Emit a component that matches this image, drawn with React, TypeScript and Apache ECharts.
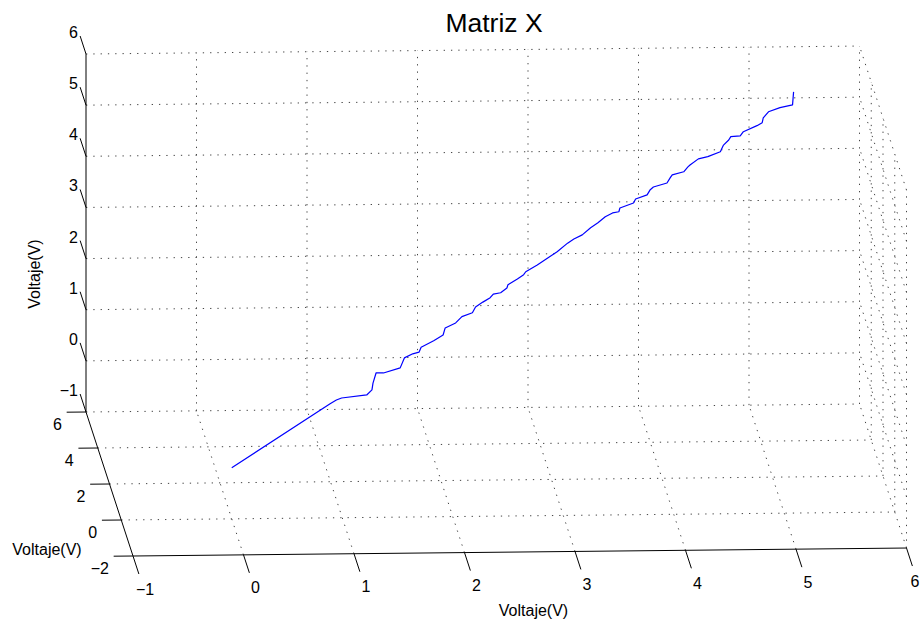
import React, { useEffect, useRef } from 'react';
import * as echarts from 'echarts';

// ---- axis ticks / labels ----
const X_TICKS = [-1, 0, 1, 2, 3, 4, 5, 6];
const Y_TICKS = [-2, 0, 2, 4, 6];
const Z_TICKS = [-1, 0, 1, 2, 3, 4, 5, 6];
const X_LABELS = ['−1', '0', '1', '2', '3', '4', '5', '6'];
const Y_LABELS = ['−2', '0', '2', '4', '6'];
const Z_LABELS = ['−1', '0', '1', '2', '3', '4', '5', '6'];
const TITLE = 'Matriz X';
const X_NAME = 'Voltaje(V)';
const Y_NAME = 'Voltaje(V)';
const Z_NAME = 'Voltaje(V)';

// ---- data (x, y, z) ----
const voltajeX = [0.00, 0.94, 1.00, 1.05, 1.29, 1.34, 1.35, 1.38, 1.45, 1.61, 1.65, 1.73, 1.79, 1.81, 1.93, 2.02, 2.04, 2.14, 2.20, 2.30, 2.33, 2.40, 2.47, 2.50, 2.57, 2.63, 2.64, 2.73, 2.79, 2.81, 2.92, 3.02, 3.11, 3.21, 3.27, 3.35, 3.43, 3.50, 3.57, 3.64, 3.70, 3.71, 3.84, 3.86, 3.97, 4.00, 4.03, 4.16, 4.19, 4.21, 4.32, 4.36, 4.38, 4.46, 4.55, 4.67, 4.70, 4.75, 4.77, 4.86, 4.89, 5.02, 5.07, 5.08, 5.13, 5.24, 5.36, 5.37];
const voltajeY = [0.00, 0.94, 1.00, 1.05, 1.29, 1.34, 1.35, 1.38, 1.45, 1.61, 1.65, 1.73, 1.79, 1.81, 1.93, 2.02, 2.04, 2.14, 2.20, 2.30, 2.33, 2.40, 2.47, 2.50, 2.57, 2.63, 2.64, 2.73, 2.79, 2.81, 2.92, 3.02, 3.11, 3.21, 3.27, 3.35, 3.43, 3.50, 3.57, 3.64, 3.70, 3.71, 3.84, 3.86, 3.97, 4.00, 4.03, 4.16, 4.19, 4.21, 4.32, 4.36, 4.38, 4.46, 4.55, 4.67, 4.70, 4.75, 4.77, 4.86, 4.89, 5.02, 5.07, 5.08, 5.13, 5.24, 5.36, 5.37];
const voltajeZ = [0.00, 0.90, 0.95, 0.97, 0.94, 1.02, 1.15, 1.34, 1.31, 1.35, 1.53, 1.58, 1.59, 1.68, 1.76, 1.84, 1.97, 2.03, 2.13, 2.17, 2.27, 2.34, 2.40, 2.46, 2.46, 2.53, 2.59, 2.67, 2.73, 2.78, 2.87, 2.97, 3.06, 3.19, 3.25, 3.30, 3.41, 3.48, 3.57, 3.62, 3.62, 3.69, 3.74, 3.81, 3.85, 3.94, 3.98, 4.01, 4.10, 4.15, 4.17, 4.25, 4.28, 4.37, 4.38, 4.43, 4.55, 4.63, 4.69, 4.67, 4.74, 4.81, 4.85, 4.94, 5.04, 5.08, 5.09, 5.34];

// ---- view / camera ----
const W = 921;
const H = 627;
const XMIN = -1, XMAX = 6, YMIN = -2, YMAX = 6, ZMIN = -1, ZMAX = 6;
const ORIGIN = [86, 412]; // projection of (XMIN, YMAX, ZMIN)
const EX = [110.5, -1.14];
const EY = [-5.875, -18];
const EZ = [0, -51.14];
const FONT = '"Liberation Sans", Arial, Helvetica, sans-serif';

function proj(x: number, y: number, z: number): number[] {
  return [
    ORIGIN[0] + (x - XMIN) * EX[0] + (y - YMAX) * EY[0] + (z - ZMIN) * EZ[0],
    ORIGIN[1] + (x - XMIN) * EX[1] + (y - YMAX) * EY[1] + (z - ZMIN) * EZ[1],
  ];
}

type Seg = { a: number[]; b: number[] };

function gridSegments(): Seg[] {
  const s: Seg[] = [];
  // back wall (y = YMAX)
  X_TICKS.filter((x) => x !== XMIN).forEach((x) => s.push({ a: [x, YMAX, ZMIN], b: [x, YMAX, ZMAX] }));
  Z_TICKS.forEach((z) => s.push({ a: [XMIN, YMAX, z], b: [XMAX, YMAX, z] }));
  // floor (z = ZMIN)
  X_TICKS.filter((x) => x !== XMIN).forEach((x) => s.push({ a: [x, YMIN, ZMIN], b: [x, YMAX, ZMIN] }));
  Y_TICKS.filter((y) => y !== YMIN && y !== YMAX).forEach((y) => s.push({ a: [XMIN, y, ZMIN], b: [XMAX, y, ZMIN] }));
  // right wall (x = XMAX)
  Y_TICKS.filter((y) => y !== YMAX).forEach((y) => s.push({ a: [XMAX, y, ZMIN], b: [XMAX, y, ZMAX] }));
  Z_TICKS.filter((z) => z !== ZMIN).forEach((z) => s.push({ a: [XMAX, YMIN, z], b: [XMAX, YMAX, z] }));
  return s;
}

function axisSegments(): Seg[] {
  const s: Seg[] = [];
  s.push({ a: [XMIN, YMAX, ZMIN], b: [XMIN, YMAX, ZMAX] });
  s.push({ a: [XMIN, YMIN, ZMIN], b: [XMIN, YMAX, ZMIN] });
  s.push({ a: [XMIN, YMIN, ZMIN], b: [XMAX, YMIN, ZMIN] });
  X_TICKS.forEach((x) => s.push({ a: [x, YMIN, ZMIN], b: [x, YMIN - 1, ZMIN] }));
  Z_TICKS.forEach((z) => s.push({ a: [XMIN, YMAX, z], b: [XMIN, YMAX + 1, z] }));
  Y_TICKS.forEach((y) => s.push({ a: [XMIN, y, ZMIN], b: [XMIN - 0.175, y, ZMIN] }));
  return s;
}

function segToLine(api: any, seg: Seg, style: any) {
  const p1 = api.coord(proj(seg.a[0], seg.a[1], seg.a[2]));
  const p2 = api.coord(proj(seg.b[0], seg.b[1], seg.b[2]));
  return { type: 'line', shape: { x1: p1[0], y1: p1[1], x2: p2[0], y2: p2[1] }, style };
}

function textEl(x: number, y: number, text: string, size: number, align: string, valign: string, rotation = 0) {
  return {
    type: 'text',
    x,
    y,
    rotation,
    style: {
      x: 0,
      y: 0,
      text,
      fill: '#000',
      font: `${size}px ${FONT}`,
      align,
      verticalAlign: valign,
      textAlign: align,
      textVerticalAlign: valign,
    },
  };
}

export default function App() {
  const ref = useRef<HTMLDivElement>(null);
  useEffect(() => {
    if (!ref.current) return;
    const chart = echarts.init(ref.current, null, { renderer: 'svg', width: W, height: H });
    const linePts = voltajeX.map((x, i) => proj(x, voltajeY[i], voltajeZ[i]));

    const gridRender = (_p: any, api: any) => ({
      type: 'group',
      children: gridSegments().map((g) =>
        segToLine(api, g, { stroke: '#444', lineWidth: 1, lineDash: [1.3, 6], fill: null })
      ),
    });
    const axisRender = (_p: any, api: any) => ({
      type: 'group',
      children: axisSegments().map((g) => segToLine(api, g, { stroke: '#000', lineWidth: 1, fill: null })),
    });
    const labelRender = (_p: any, api: any) => {
      const ch: any[] = [];
      X_TICKS.forEach((x, i) => {
        const p = api.coord(proj(x, YMIN, ZMIN));
        // keep the last label inside the canvas edge
        const px = Math.min(p[0] + 12, W - 6);
        ch.push(textEl(px, p[1] + 33, X_LABELS[i], 16, 'center', 'middle'));
      });
      Z_TICKS.forEach((z, i) => {
        const p = api.coord(proj(XMIN, YMAX, z));
        ch.push(textEl(p[0] - 8, p[1] - 21.5, Z_LABELS[i], 16, 'right', 'middle'));
      });
      Y_TICKS.forEach((y, i) => {
        const p = api.coord(proj(XMIN, y, ZMIN));
        ch.push(textEl(p[0] - 24, p[1] + 12, Y_LABELS[i], 16, 'right', 'middle'));
      });
      const t = api.coord([494, 22.5]);
      ch.push(textEl(t[0], t[1], TITLE, 26.5, 'center', 'middle'));
      const xn = api.coord([533.5, 610]);
      ch.push(textEl(xn[0], xn[1], X_NAME, 16, 'center', 'middle'));
      const yn = api.coord([47, 549]);
      ch.push(textEl(yn[0], yn[1], Y_NAME, 16, 'center', 'middle'));
      const zn = api.coord([34, 274]);
      ch.push(textEl(zn[0], zn[1], Z_NAME, 16, 'center', 'middle', Math.PI / 2));
      return { type: 'group', children: ch };
    };

    chart.setOption({
      animation: false,
      backgroundColor: '#ffffff',
      grid: { left: 0, right: 0, top: 0, bottom: 0 },
      xAxis: { type: 'value', min: 0, max: W, show: false },
      yAxis: { type: 'value', min: 0, max: H, inverse: true, show: false },
      series: [
        { type: 'custom', renderItem: gridRender, data: [[0, 0]], clip: false, silent: true, z: 1 },
        {
          type: 'line',
          data: linePts,
          showSymbol: false,
          symbol: 'none',
          clip: false,
          silent: true,
          lineStyle: { color: '#0000ff', width: 1.2 },
          z: 3,
        },
        { type: 'custom', renderItem: axisRender, data: [[0, 0]], clip: false, silent: true, z: 4 },
        { type: 'custom', renderItem: labelRender, data: [[0, 0]], clip: false, silent: true, z: 5 },
      ],
    });
    return () => chart.dispose();
  }, []);
  return (
    <div
      ref={ref}
      style={{ position: 'fixed', left: 0, top: 0, width: W, height: H, background: '#fff' }}
    />
  );
}
